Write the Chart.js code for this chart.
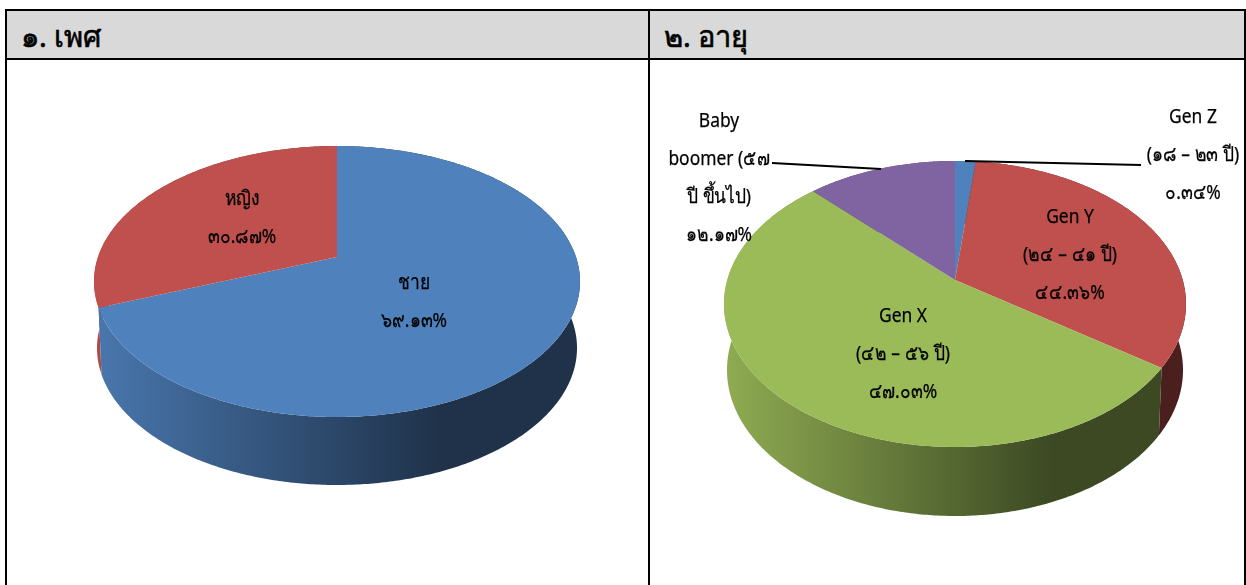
<!DOCTYPE html>
<html lang="th">
<head>
<meta charset="utf-8">
<title>เพศ และ อายุ</title>
<script src="https://cdn.jsdelivr.net/npm/chart.js@4"></script>
<style>
html,body{margin:0;padding:0;background:#fff;overflow:hidden}
body{width:1246px;height:585px;position:relative;font-family:"Noto Sans","Open Sans","DejaVu Sans",sans-serif;color:#000}
.rule{position:absolute;background:#000}
.head{position:absolute;top:11px;height:47px;background:#d9d9d9;font-size:29px;font-weight:400;-webkit-text-stroke:.6px #000;line-height:50px;white-space:nowrap;padding-left:14px;box-sizing:border-box}
canvas{position:absolute;display:block}
</style>
</head>
<body>
<div class="head" style="left:7px;width:641px">๑. เพศ</div>
<div class="head" style="left:650px;width:594px">๒. อายุ</div>
<div class="rule" style="left:5px;top:9px;width:1241px;height:2px"></div>
<div class="rule" style="left:5px;top:58px;width:1241px;height:2px"></div>
<div class="rule" style="left:5px;top:9px;width:2px;height:576px"></div>
<div class="rule" style="left:648px;top:9px;width:2px;height:576px"></div>
<div class="rule" style="left:1244px;top:9px;width:2px;height:576px"></div>
<div style="position:absolute;left:0;top:0;width:1246px;height:585px">
<canvas id="pieGender" style="left:7px;top:60px" width="641" height="525"></canvas>
<canvas id="pieAge" style="left:650px;top:60px" width="594" height="525"></canvas>
</div>
<script>
// ---- data ----
const genderCategories = ["ชาย", "หญิง"];
const genderShares = [69.13, 30.87];
const genderValueLabels = ["๖๙.๑๓%", "๓๐.๘๗%"];

const ageCategories = [["Gen Z", "(๑๘ – ๒๓ ปี)"], ["Gen Y", "(๒๔ – ๔๑ ปี)"], ["Gen X", "(๔๒ – ๕๖ ปี)"], ["Baby", "boomer (๕๗", "ปี ขึ้นไป)"]];
// shares as the slices are drawn in the picture; printed labels are kept separately
const ageShares = [1.7, 33, 53, 12.3];
const ageValueLabels = ["๐.๓๔%", "๔๔.๓๖%", "๔๗.๐๓%", "๑๒.๑๗%"];

const genderColors = ["#4F81BD", "#C0504D"];
const ageColors = ["#4F81BD", "#C0504D", "#9BBB59", "#8064A2"];

// ---- presentation (page coordinates) ----
const FONT = '20.5px "Noto Sans","Open Sans","DejaVu Sans",sans-serif';
const TEXT_SQUEEZE = 0.85;
const LINE = 38;
const genderView = {
  top: {cx:337, cy:281.5, rx:243, ry:135.5}, bottom: {cx:337, cy:348, rx:240, ry:137}, tilt:-0.18,
  labelAt: [[414,283],[242,199]], leaders: []
};
const ageView = {
  top: {cx:955, cy:304, rx:231, ry:143}, bottom: {cx:955, cy:370, rx:228, ry:146}, tilt:-0.168,
  labelAt: [[1193,117],[1070,217],[903,316],[719,121]],
  leaders: [[[965,161],[1141,165]], [[772,163],[881,169]]]
};

function shade(hex, f){
  const n = parseInt(hex.slice(1),16);
  return `rgb(${Math.round((n>>16&255)*f)},${Math.round((n>>8&255)*f)},${Math.round((n&255)*f)})`;
}
function project(e, d, a){
  const x = Math.cos(a), y = Math.sin(a), w = 1 + d*y;
  return [e.cx + e.rx*x*Math.sqrt(1-d*d)/w, e.cy + e.ry*(y+d)/w];
}
const perspectivePie = {
  id: 'perspectivePie',
  beforeDatasetsDraw(chart, args, opts){
    const v = opts.view, ctx = chart.ctx, off = [chart.canvas.offsetLeft, chart.canvas.offsetTop];
    const arcs = chart.getDatasetMeta(0).data, colors = chart.data.datasets[0].backgroundColor;
    ctx.save();
    ctx.translate(-off[0], -off[1]);
    const grad = c => {
      const g = ctx.createLinearGradient(v.top.cx - v.top.rx, 0, v.top.cx + v.top.rx, 0);
      g.addColorStop(0, shade(c, .92)); g.addColorStop(.71, shade(c, .39)); g.addColorStop(1, shade(c, .39));
      return g;
    };
    const arcPts = (e, s, t) => {
      const pts = [], n = Math.max(2, Math.ceil((t-s)/0.01));
      for (let i = 0; i <= n; i++) pts.push(project(e, v.tilt, s + (t-s)*i/n));
      return pts;
    };
    const order = arcs.map((a,i)=>i).sort((p,q)=>
      Math.sin((arcs[p].startAngle+arcs[p].endAngle)/2) - Math.sin((arcs[q].startAngle+arcs[q].endAngle)/2));
    for (const i of order){
      const a = arcs[i];
      const t = arcPts(v.top, a.startAngle, a.endAngle), b = arcPts(v.bottom, a.startAngle, a.endAngle).reverse();
      ctx.beginPath();
      t.concat(b).forEach((p,k)=> k ? ctx.lineTo(p[0],p[1]) : ctx.moveTo(p[0],p[1]));
      ctx.closePath();
      ctx.fillStyle = grad(colors[i]);
      ctx.fill();
    }
    const center = [v.top.cx, v.top.cy + v.top.ry*v.tilt];
    arcs.forEach((a,i)=>{
      ctx.beginPath();
      ctx.moveTo(center[0], center[1]);
      arcPts(v.top, a.startAngle, a.endAngle).forEach(p=>ctx.lineTo(p[0],p[1]));
      ctx.closePath();
      ctx.fillStyle = colors[i];
      ctx.fill();
    });
    ctx.restore();
    return false;
  },
  afterDraw(chart, args, opts){
    const v = opts.view, ctx = chart.ctx, off = [chart.canvas.offsetLeft, chart.canvas.offsetTop];
    ctx.save();
    ctx.translate(-off[0], -off[1]);
    ctx.strokeStyle = '#000'; ctx.lineWidth = 2;
    v.leaders.forEach(l=>{ctx.beginPath();ctx.moveTo(l[0][0],l[0][1]);ctx.lineTo(l[1][0],l[1][1]);ctx.stroke();});
    ctx.font = FONT; ctx.fillStyle = '#000'; ctx.textAlign = 'center'; ctx.textBaseline = 'middle';
    ctx.lineWidth = .25;
    chart.data.labels.forEach((lab,i)=>{
      const lines = [].concat(lab, opts.valueLabels[i]);
      lines.forEach((s,k)=>{
        ctx.save();
        ctx.translate(v.labelAt[i][0], v.labelAt[i][1] + k*LINE);
        ctx.scale(TEXT_SQUEEZE, 1);
        ctx.fillText(s, 0, 0);
        ctx.strokeText(s, 0, 0);
        ctx.restore();
      });
    });
    ctx.restore();
  }
};
function makePie(id, labels, data, colors, view, valueLabels){
  return new Chart(document.getElementById(id), {
    type: 'pie',
    data: {labels, datasets:[{data, backgroundColor: colors, borderWidth:0}]},
    options: {
      responsive:false, animation:false, events:[],
      plugins:{legend:{display:false}, tooltip:{enabled:false}, perspectivePie:{view, valueLabels}}
    },
    plugins:[perspectivePie]
  });
}
makePie('pieGender', genderCategories, genderShares, genderColors, genderView, genderValueLabels);
makePie('pieAge', ageCategories, ageShares, ageColors, ageView, ageValueLabels);
</script>
</body>
</html>
